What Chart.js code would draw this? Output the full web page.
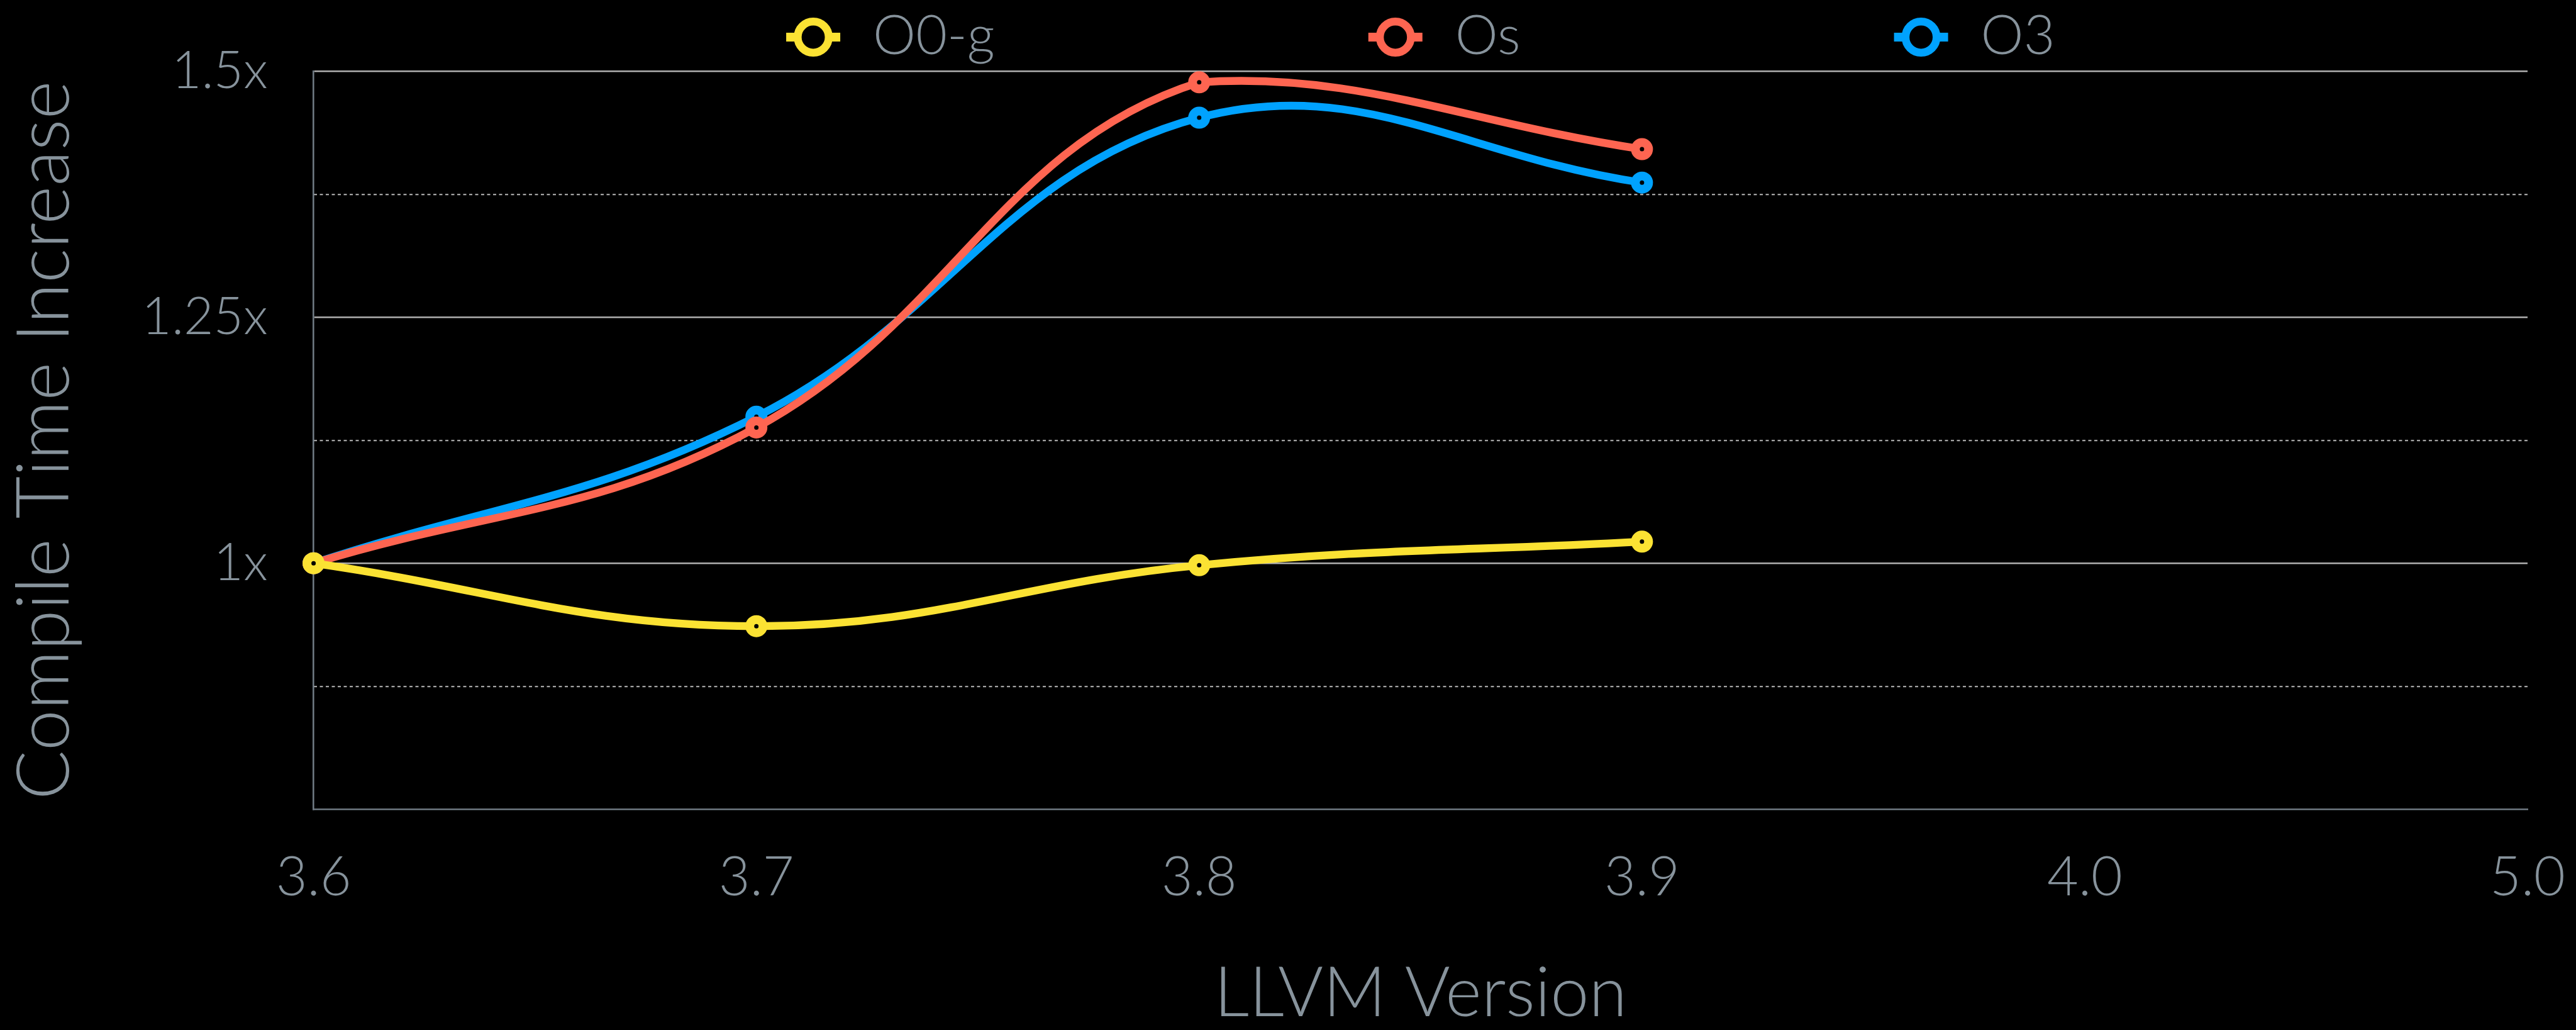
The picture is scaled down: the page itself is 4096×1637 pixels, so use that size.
<!DOCTYPE html>
<html>
<head>
<meta charset="utf-8">
<title>Compile Time Increase</title>
<script src="https://cdn.jsdelivr.net/npm/chart.js@4"></script>
<style>
	html, body { margin: 0; padding: 0; background: #000; }
	#wrap { width: 4096px; height: 1637px; position: relative; }
</style>
</head>
<body>
<div id="wrap"><canvas id="grafico"></canvas></div>
<script>
// ---- dati ----
const versioni = ['3.6', '3.7', '3.8', '3.9', '4.0', '5.0'];
const nomiSerie = ['O0-g', 'Os', 'O3'];
const valoriO0g = [1.0, 0.936, 0.998, 1.022];
const valoriOs = [1.0, 1.138, 1.489, 1.421];
const valoriO3 = [1.0, 1.149, 1.453, 1.387];
const tickMaggiori = [0.75, 1, 1.25, 1.5];
const tickMinori = [0.875, 1.125, 1.375];
const etichetteY = { 1: '1x', 1.25: '1.25x', 1.5: '1.5x' };

// ---- stile ----
const FONT = 'Lato';
const GRIGIO_TESTO = '#87939c';
const GRIGIO_ASSE = '#6f7a83';
const GRIGIO_GRIGLIA = '#b0b0b0';
const GRIGIO_PUNTINI = '#a2a2a2';
const colori = ['#fbe233', '#fe6551', '#00a2fe'];

const W = 4096, H = 1637;
const AREA_LEFT = 498.6, AREA_BOTTOM = 1286;

function serie(label, data, colore){
	return {
		label: label,
		data: data,
		borderColor: colore,
		backgroundColor: colore,
		borderWidth: 12.3,
		tension: 0.4,
		pointRadius: 10.5,
		pointBorderWidth: 14,
		pointBackgroundColor: '#000',
		pointBorderColor: colore,
		clip: false
	};
}

// legenda disegnata a mano: marcatore (linea + cerchio) e testo
const legenda = {
	id: 'legenda',
	afterDraw(chart){
		const ctx = chart.ctx;
		const area = chart.chartArea;
		const stub = 86, offTesto = 138, gap = 594, cy = 59, base = 85.5;
		ctx.save();
		ctx.font = '300 86px ' + FONT;
		const voci = chart.data.datasets.map(ds => ({
			label: ds.label, colore: ds.borderColor, w: ctx.measureText(ds.label).width
		}));
		let totale = 0;
		voci.forEach((v, i) => { totale += offTesto + v.w + (i < voci.length - 1 ? gap : 0); });
		let x = (area.left + area.right) / 2 - totale / 2;
		voci.forEach(v => {
			ctx.strokeStyle = v.colore;
			ctx.lineWidth = 14;
			ctx.beginPath();
			ctx.moveTo(x, cy);
			ctx.lineTo(x + stub, cy);
			ctx.stroke();
			ctx.beginPath();
			ctx.arc(x + stub / 2, cy, 24.7, 0, Math.PI * 2);
			ctx.fillStyle = '#000';
			ctx.fill();
			ctx.lineWidth = 12.5;
			ctx.stroke();
			ctx.fillStyle = GRIGIO_TESTO;
			ctx.textBaseline = 'alphabetic';
			ctx.textAlign = 'left';
			ctx.fillText(v.label, x + offTesto, base);
			x += offTesto + v.w + gap;
		});
		ctx.restore();
	}
};

const ctx = document.getElementById('grafico').getContext('2d');
new Chart(ctx, {
	type: 'line',
	data: {
		labels: versioni,
		datasets: [
			serie(nomiSerie[0], valoriO0g, colori[0]),
			serie(nomiSerie[1], valoriOs, colori[1]),
			serie(nomiSerie[2], valoriO3, colori[2])
		]
	},
	options: {
		responsive: true,
		maintainAspectRatio: false,
		devicePixelRatio: 1,
		animation: false,
		events: [],
		layout: { padding: { top: 113.6, right: 77, bottom: 0, left: 0 } },
		plugins: {
			legend: { display: false },
			tooltip: { enabled: false }
		},
		scales: {
			x: {
				type: 'category',
				offset: false,
				grid: { drawOnChartArea: false, drawTicks: false },
				border: { color: GRIGIO_ASSE, width: 2.6 },
				ticks: {
					color: GRIGIO_TESTO,
					font: { family: FONT, size: 86, weight: 300 },
					padding: 58,
					maxRotation: 0,
					autoSkip: false
				},
				title: {
					display: true,
					text: 'LLVM Version',
					color: GRIGIO_TESTO,
					font: { family: FONT, size: 110, weight: 300, lineHeight: 1 },
					padding: { top: 0, bottom: 2 }
				},
				afterFit(s){
					s.height = H - AREA_BOTTOM;
					s.paddingLeft = 0;
					s.paddingRight = 0;
				}
			},
			y: {
				min: 0.75,
				max: 1.5,
				afterBuildTicks(s){ s.ticks = tickMaggiori.map(v => ({ value: v })); },
				grid: {
					drawTicks: false,
					lineWidth: 2.6,
					color: c => (c.tick && c.tick.value === 0.75) ? 'rgba(0,0,0,0)' : GRIGIO_GRIGLIA
				},
				border: { color: GRIGIO_ASSE, width: 2.6 },
				ticks: {
					color: GRIGIO_TESTO,
					font: { family: FONT, size: 82, weight: 300 },
					padding: 73,
					callback: v => etichetteY[v] || ''
				},
				title: {
					display: true,
					text: 'Compile Time Increase',
					color: GRIGIO_TESTO,
					font: { family: FONT, size: 117, weight: 300, lineHeight: 1 },
					padding: { top: 13, bottom: 0 }
				},
				afterFit(s){
					s.width = AREA_LEFT;
					s.paddingTop = 0;
					s.paddingBottom = 0;
				}
			},
			y2: {
				position: 'left',
				min: 0.75,
				max: 1.5,
				afterBuildTicks(s){ s.ticks = tickMinori.map(v => ({ value: v })); },
				ticks: { display: false },
				grid: { drawTicks: false, lineWidth: 2.2, color: GRIGIO_PUNTINI },
				border: { display: false, dash: [5, 4.5] },
				afterFit(s){
					s.width = 0;
					s.paddingTop = 0;
					s.paddingBottom = 0;
				}
			}
		}
	},
	plugins: [legenda]
});
</script>
</body>
</html>
